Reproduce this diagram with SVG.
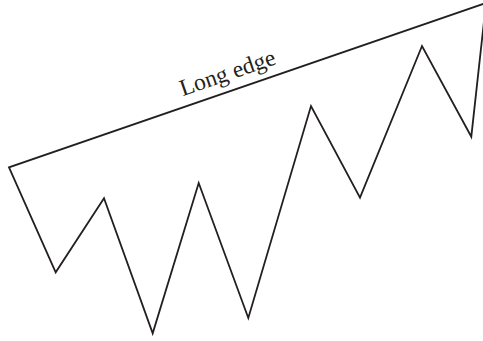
<svg xmlns="http://www.w3.org/2000/svg" width="483" height="341" viewBox="0 0 483 341">
  <style>
    .edge { fill: none; stroke: #231f20; stroke-width: 1.8; stroke-linejoin: miter; stroke-miterlimit: 20; }
    .label { font-family: "Liberation Serif", "Times New Roman", serif; font-size: 23.5px; fill: #231f20; }
  </style>
  <rect width="483" height="341" fill="#ffffff"/>
  <g id="shape">
    <polygon class="edge" points="9,167.3 55.7,272.3 104,198.3 152.7,333.3 198.7,183 248.3,318 311,106 360,197.7 422,46 471.3,136.7 486,3"/>
  </g>
  <g id="labels">
    <text class="label" x="230" y="80" text-anchor="middle" transform="rotate(-19 230 80)">Long edge</text>
  </g>
</svg>
